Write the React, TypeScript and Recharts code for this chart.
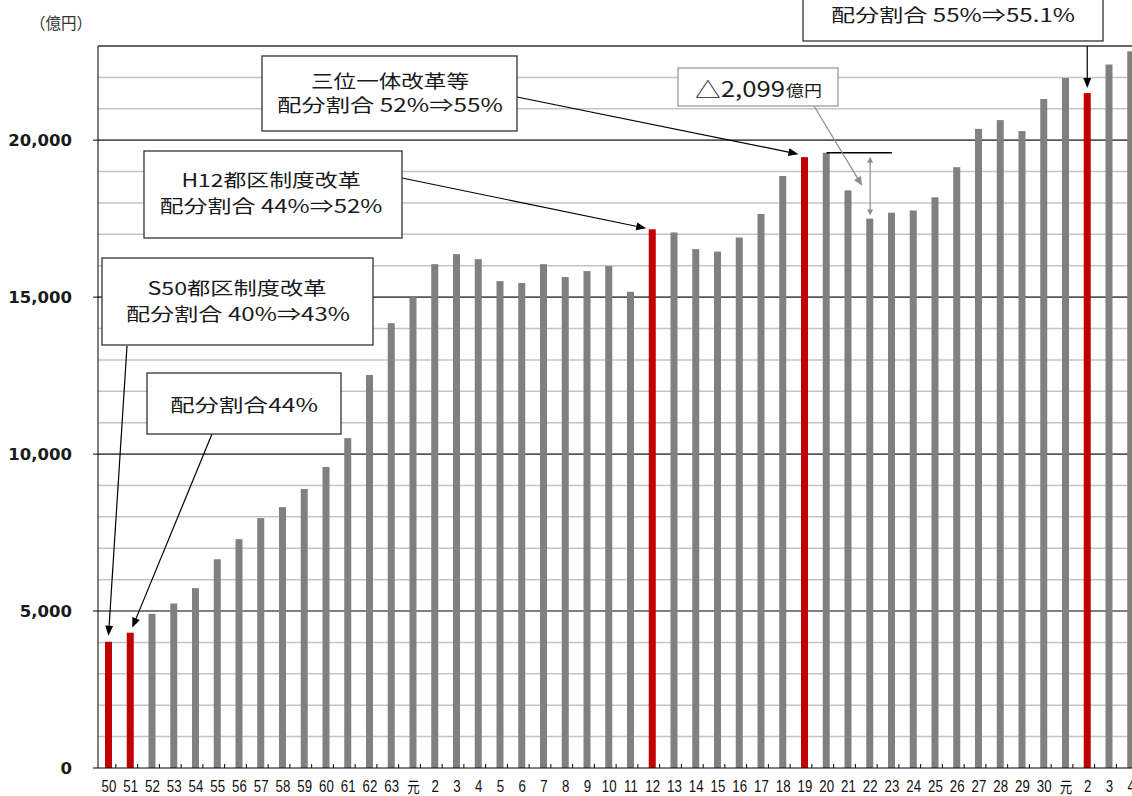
import React from "react";
import { BarChart, Bar, XAxis, YAxis, CartesianGrid, ReferenceLine } from "recharts";

// 年度キー（昭和50〜令和4）と表示ラベル
const years = [
  "S50", "S51", "S52", "S53", "S54", "S55", "S56", "S57", "S58", "S59", "S60", "S61", "S62", "S63",
  "H1", "H2", "H3", "H4", "H5", "H6", "H7", "H8", "H9", "H10", "H11", "H12", "H13", "H14", "H15",
  "H16", "H17", "H18", "H19", "H20", "H21", "H22", "H23", "H24", "H25", "H26", "H27", "H28", "H29",
  "H30", "R1", "R2", "R3", "R4",
];
const yearLabels = [
  "50", "51", "52", "53", "54", "55", "56", "57", "58", "59", "60", "61", "62", "63",
  "元", "2", "3", "4", "5", "6", "7", "8", "9", "10", "11", "12", "13", "14", "15",
  "16", "17", "18", "19", "20", "21", "22", "23", "24", "25", "26", "27", "28", "29",
  "30", "元", "2", "3", "4",
];
// 億円
const amounts = [
  4020, 4310, 4910, 5240, 5730, 6650, 7290, 7960, 8310, 8890, 9590, 10510, 12520, 14170,
  15000, 16050, 16370, 16210, 15510, 15450, 16050, 15640, 15830, 15990, 15170, 17160, 17060, 16530, 16450,
  16900, 17650, 18860, 19460, 19600, 18400, 17501, 17690, 17760, 18180, 19140, 20360, 20640, 20290,
  21310, 21980, 21500, 22410, 22830,
];
const highlighted = ["S50", "S51", "H12", "H19", "R2"];

const yTicks = [0, 5000, 10000, 15000, 20000];
const gridValues = [
  1000, 2000, 3000, 4000, 5000, 6000, 7000, 8000, 9000, 10000, 11000, 12000, 13000, 14000,
  15000, 16000, 17000, 18000, 19000, 20000, 21000, 22000, 23000,
];
const majorGrid = [5000, 10000, 15000, 20000];

const data = years.map((key, i) => ({ key, label: yearLabels[i], value: amounts[i] }));

const CHART_W = 1152;
const CHART_H = 796;
const PLOT_LEFT = 98;
const AXIS_Y = 768;

// 吹き出しからの矢印（始点はレイアウト座標、終点は棒の頂点）
const callouts: { key: string; from: [number | null, number]; dx: number; gap: number }[] = [
  { key: "S50", from: [127, 346], dx: 0, gap: 6 },
  { key: "S51", from: [212, 434], dx: 2, gap: 5 },
  { key: "H12", from: [402, 178], dx: -6, gap: 1 },
  { key: "H19", from: [517, 97], dx: -6, gap: 3 },
  { key: "R2", from: [null, 41], dx: 0, gap: 5 },
];

function Arrow({ x1, y1, x2, y2, color = "#000", len = 10, half = 4, both = false }: any) {
  const a = Math.atan2(y2 - y1, x2 - x1);
  const head = (tx: number, ty: number, ang: number) => {
    const bx = tx - len * Math.cos(ang);
    const by = ty - len * Math.sin(ang);
    const px = -Math.sin(ang) * half;
    const py = Math.cos(ang) * half;
    return `${tx},${ty} ${bx + px},${by + py} ${bx - px},${by - py}`;
  };
  const ex = x2 - (len - 1) * Math.cos(a);
  const ey = y2 - (len - 1) * Math.sin(a);
  const sx = both ? x1 + (len - 1) * Math.cos(a) : x1;
  const sy = both ? y1 + (len - 1) * Math.sin(a) : y1;
  return (
    <g>
      <line x1={sx} y1={sy} x2={ex} y2={ey} stroke={color} strokeWidth={1.2} />
      <polygon points={head(x2, y2, a)} fill={color} />
      {both && <polygon points={head(x1, y1, a + Math.PI)} fill={color} />}
    </g>
  );
}

const BarShape = (p: any) => {
  const { x, y, width, height, payload } = p;
  const red = highlighted.includes(payload.key);
  const c = callouts.find((o) => o.key === payload.key);
  const cx = x + width / 2;
  return (
    <g>
      <rect x={x} y={y} width={width} height={height} fill={red ? "#C00000" : "#808080"} />
      {c && <Arrow x1={c.from[0] ?? cx} y1={c.from[1]} x2={cx + c.dx} y2={y - c.gap} />}
    </g>
  );
};

const GridLine = (p: any) => {
  const { x1, x2, y1, y2, index } = p;
  const v = gridValues[index];
  const major = majorGrid.includes(v);
  const top = v === 23000;
  return (
    <line
      key={`g-${index}`}
      x1={x1}
      x2={x2}
      y1={y1}
      y2={y2}
      stroke={top ? "#333" : major ? "#555" : "#c4c4c4"}
      strokeWidth={major ? 1.6 : top ? 1.3 : 1.5}
    />
  );
};

const DeltaMarker = (p: any) => {
  const { x1, y1, x2, y2 } = p;
  return (
    <g>
      <Arrow x1={x1} y1={y1 + 4} x2={x2} y2={y2 - 3} color="#8c8c8c" len={6} half={3} both />
      <Arrow x1={814} y1={106} x2={x1 - 8} y2={(y1 + y2) / 2} color="#8c8c8c" len={9} half={4} />
    </g>
  );
};

const XTick = (p: any) => {
  const { x, payload } = p;
  const i = years.indexOf(payload.value);
  const label = yearLabels[i];
  const gengo = label === "元";
  return (
    <g>
      <line x1={x + 7} x2={x + 7} y1={AXIS_Y} y2={AXIS_Y - 4} stroke="#000" />
      <text
        transform={`translate(${x},${AXIS_Y + (gengo ? 25 : 24)}) scale(0.78,1)`}
        textAnchor="middle"
        fontSize={gengo ? 16 : 17}
        fontFamily={gengo ? "'Noto Sans CJK JP'" : "'Liberation Sans', Arial"}
        fill="#111"
      >
        {label}
      </text>
    </g>
  );
};

type Box = { x: number; y: number; w: number; h: number; lines: { t: string; cx: number; cy: number; len: number }[] };
const boxes: Box[] = [
  {
    x: 262, y: 56, w: 255, h: 75,
    lines: [
      { t: "三位一体改革等", cx: 390, cy: 80, len: 158 },
      { t: "配分割合 52%⇒55%", cx: 390, cy: 104, len: 226 },
    ],
  },
  {
    x: 144, y: 151, w: 258, h: 87,
    lines: [
      { t: "H12都区制度改革", cx: 271, cy: 179, len: 179 },
      { t: "配分割合 44%⇒52%", cx: 271, cy: 205, len: 223 },
    ],
  },
  {
    x: 102, y: 258, w: 271, h: 87,
    lines: [
      { t: "S50都区制度改革", cx: 237, cy: 287, len: 179 },
      { t: "配分割合 40%⇒43%", cx: 238, cy: 313, len: 224 },
    ],
  },
  {
    x: 147, y: 373, w: 194, h: 61,
    lines: [{ t: "配分割合44%", cx: 244, cy: 404, len: 148 }],
  },
  {
    x: 803, y: -40, w: 300, h: 81,
    lines: [{ t: "配分割合 55%⇒55.1%", cx: 953, cy: 14, len: 244 }],
  },
];

export default function App() {
  return (
    <div
      style={{
        position: "absolute",
        left: 0,
        top: 0,
        width: 1132,
        height: 796,
        overflow: "hidden",
        background: "#fff",
        fontFamily: "'Noto Sans CJK JP', 'DejaVu Sans', sans-serif",
      }}
    >
      <BarChart
        width={CHART_W}
        height={CHART_H}
        data={data}
        margin={{ top: 46, right: 10, left: 0, bottom: 0 }}
        barSize={7}
      >
        <CartesianGrid vertical={false} horizontalValues={gridValues} horizontal={GridLine} />
        <XAxis
          dataKey="key"
          interval={0}
          tick={<XTick />}
          tickLine={false}
          tickSize={0}
          height={28}
          axisLine={{ stroke: "#000" }}
        />
        <YAxis
          width={PLOT_LEFT}
          domain={[0, 23000]}
          ticks={yTicks}
          interval={0}
          allowDataOverflow
          tickSize={5}
          tickMargin={21}
          tickLine={{ stroke: "#000" }}
          axisLine={{ stroke: "#000" }}
          tickFormatter={(v: number) => v.toLocaleString("en-US")}
          tick={{ fontSize: 16.5, fontWeight: "bold", fill: "#1a1a1a", fontFamily: "'DejaVu Sans'" }}
        />
        <Bar dataKey="value" shape={<BarShape />} isAnimationActive={false} />
        <ReferenceLine
          segment={[
            { x: "H20", y: amounts[33] },
            { x: "H23", y: amounts[33] },
          ]}
          stroke="#000"
          strokeWidth={1.3}
        />
        <ReferenceLine
          segment={[
            { x: "H22", y: amounts[33] },
            { x: "H22", y: amounts[35] },
          ]}
          shape={DeltaMarker}
        />
      </BarChart>

      <svg
        width={1132}
        height={796}
        style={{ position: "absolute", left: 0, top: 0, pointerEvents: "none" }}
      >
        <text x={61} y={22} textAnchor="middle" dominantBaseline="central" fontSize={16} fill="#333" textLength={62} lengthAdjust="spacingAndGlyphs">
          （億円）
        </text>
        {boxes.map((b, i) => (
          <g key={i}>
            <rect x={b.x} y={b.y} width={b.w} height={b.h} fill="#fff" stroke="#333" strokeWidth={1.3} />
            {b.lines.map((l, j) => (
              <text
                key={j}
                x={l.cx}
                y={l.cy}
                textAnchor="middle"
                dominantBaseline="central"
                fontSize={18}
                fill="#1a1a1a"
                textLength={l.len}
                lengthAdjust="spacingAndGlyphs"
              >
                {l.t}
              </text>
            ))}
          </g>
        ))}
        <rect x={678} y={68} width={160} height={38} fill="#fff" stroke="#9a9a9a" strokeWidth={1.3} />
        <text x={695} y={88} dominantBaseline="central" fontSize={21} fill="#1a1a1a" textLength={90} lengthAdjust="spacingAndGlyphs">
          △2,099
        </text>
        <text x={786} y={89} dominantBaseline="central" fontSize={15} fill="#1a1a1a" textLength={36} lengthAdjust="spacingAndGlyphs">
          億円
        </text>
      </svg>
    </div>
  );
}
